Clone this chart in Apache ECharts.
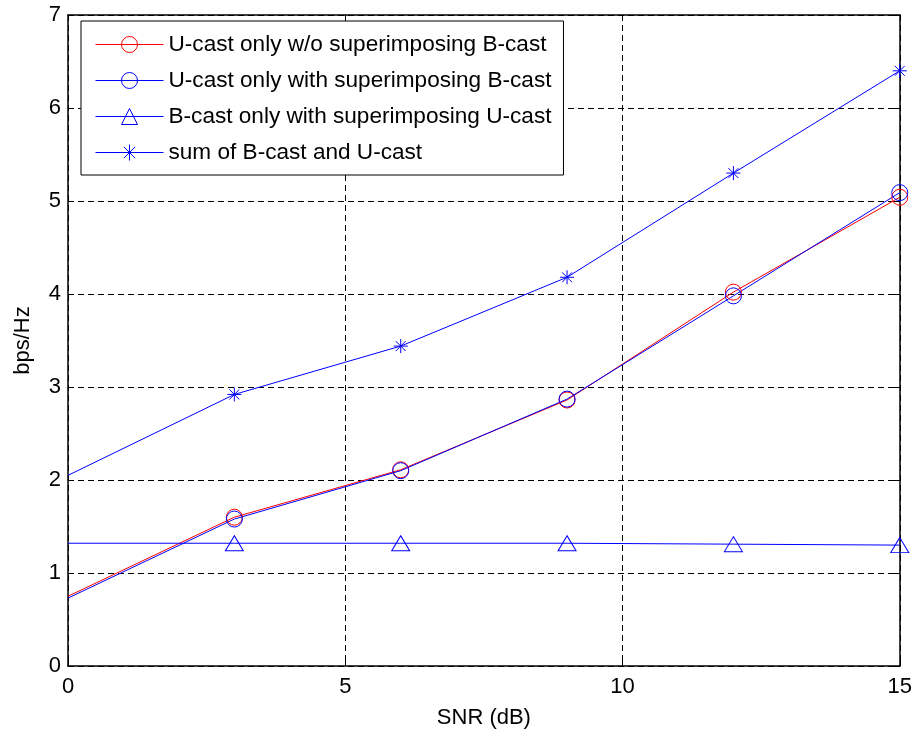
<!DOCTYPE html>
<html>
<head>
<meta charset="utf-8">
<script src="https://cdn.jsdelivr.net/npm/echarts@6/dist/echarts.min.js"></script>
<style>
html,body{margin:0;padding:0;background:#fff;}
#chart{width:915px;height:736px;}
</style>
</head>
<body>
<div id="chart"></div>
<script>
// ---- data ----
const snr = [0, 3, 6, 9, 12, 15];
const ucastNoSup = [0.75, 1.60, 2.11, 2.86, 4.02, 5.04];
const ucastWithSup = [0.73, 1.58, 2.10, 2.87, 3.98, 5.09];
const bcastWithSup = [1.32, 1.32, 1.32, 1.32, 1.31, 1.30];
const sumCast = [2.05, 2.92, 3.44, 4.18, 5.30, 6.40];
const seriesNames = [
  'U-cast only w/o superimposing B-cast',
  'U-cast only with superimposing B-cast',
  'B-cast only with superimposing U-cast',
  'sum of B-cast and U-cast'
];
const xTicks = [0, 5, 10, 15];
const yTicks = [0, 1, 2, 3, 4, 5, 6, 7];

// markers are shown at 3..15 only (not at SNR = 0)
function pts(ys) {
  return snr.map((x, i) => i === 0 ? { value: [x, ys[i]], symbol: 'none' } : [x, ys[i]]);
}

const FONT = '"Liberation Sans", Arial, Helvetica, sans-serif';
const starPath = 'path://M0,-10L0,10M-10,0L10,0M-7.07,-7.07L7.07,7.07M-7.07,7.07L7.07,-7.07';

function mkSeries(name, ys, color, symbol, size) {
  return {
    name: name,
    type: 'line',
    data: pts(ys),
    color: color,
    symbol: symbol,
    symbolSize: size,
    showAllSymbol: true,
    lineStyle: { color: color, width: 1 },
    itemStyle: { color: 'transparent', borderColor: color, borderWidth: 1 },
    emphasis: { disabled: true },
    animation: false,
    z: 3
  };
}

const chart = echarts.init(document.getElementById('chart'), null, { renderer: 'canvas' });
const dash = [6, 4];
chart.setOption({
  backgroundColor: '#fff',
  animation: false,
  textStyle: { fontFamily: FONT },
  grid: { left: 68, right: 15, top: 15, bottom: 70, containLabel: false },
  legend: {
    orient: 'vertical',
    left: 81,
    top: 21,
    padding: [12, 12, 11, 14],
    itemWidth: 68,
    itemHeight: 20,
    itemGap: 13,
    backgroundColor: '#fff',
    borderColor: '#000',
    borderWidth: 1,
    borderRadius: 0,
    lineStyle: { width: 1 },
    itemStyle: { borderWidth: 1 },
    textStyle: { fontSize: 22.6, color: '#000', fontFamily: FONT },
    data: seriesNames,
    z: 10
  },
  xAxis: [{
    type: 'value', min: 0, max: 15, interval: 5,
    name: 'SNR (dB)', nameLocation: 'middle', nameGap: 41,
    nameTextStyle: { fontSize: 22, color: '#000', fontFamily: FONT },
    axisLine: { show: true, onZero: false, lineStyle: { color: '#000', width: 1.5 } },
    axisTick: { show: true, inside: true, length: 6, lineStyle: { color: '#000' } },
    axisLabel: { fontSize: 22, color: '#000', margin: 10, fontFamily: FONT,
      formatter: v => xTicks.includes(v) ? String(v) : '' },
    splitLine: { show: true, lineStyle: { color: '#000', type: dash, width: 1 } }
  }, {
    type: 'value', min: 0, max: 15, interval: 5, position: 'top',
    axisLine: { show: true, onZero: false, lineStyle: { color: '#000', width: 1.5 } },
    axisTick: { show: true, inside: true, length: 6, lineStyle: { color: '#000' } },
    axisLabel: { show: false }, splitLine: { show: false }
  }],
  yAxis: [{
    type: 'value', min: 0, max: 7, interval: 1,
    name: 'bps/Hz', nameLocation: 'middle', nameGap: 34, nameRotate: 90,
    nameTextStyle: { fontSize: 22, color: '#000', fontFamily: FONT },
    axisLine: { show: true, onZero: false, lineStyle: { color: '#000', width: 1.5 } },
    axisTick: { show: true, inside: true, length: 6, lineStyle: { color: '#000' } },
    axisLabel: { fontSize: 22, color: '#000', margin: 7, fontFamily: FONT,
      formatter: v => yTicks.includes(v) ? String(v) : '' },
    splitLine: { show: true, lineStyle: { color: '#000', type: dash, width: 1 } }
  }, {
    type: 'value', min: 0, max: 7, interval: 1, position: 'right',
    axisLine: { show: true, onZero: false, lineStyle: { color: '#000', width: 1.5 } },
    axisTick: { show: true, inside: true, length: 6, lineStyle: { color: '#000' } },
    axisLabel: { show: false }, splitLine: { show: false }
  }],
  series: [
    mkSeries(seriesNames[0], ucastNoSup, '#ff0000', 'circle', 16),
    mkSeries(seriesNames[1], ucastWithSup, '#0000ff', 'circle', 16),
    mkSeries(seriesNames[2], bcastWithSup, '#0000ff', 'triangle', [18, 15]),
    mkSeries(seriesNames[3], sumCast, '#0000ff', starPath, 14)
  ]
});
</script>
</body>
</html>
